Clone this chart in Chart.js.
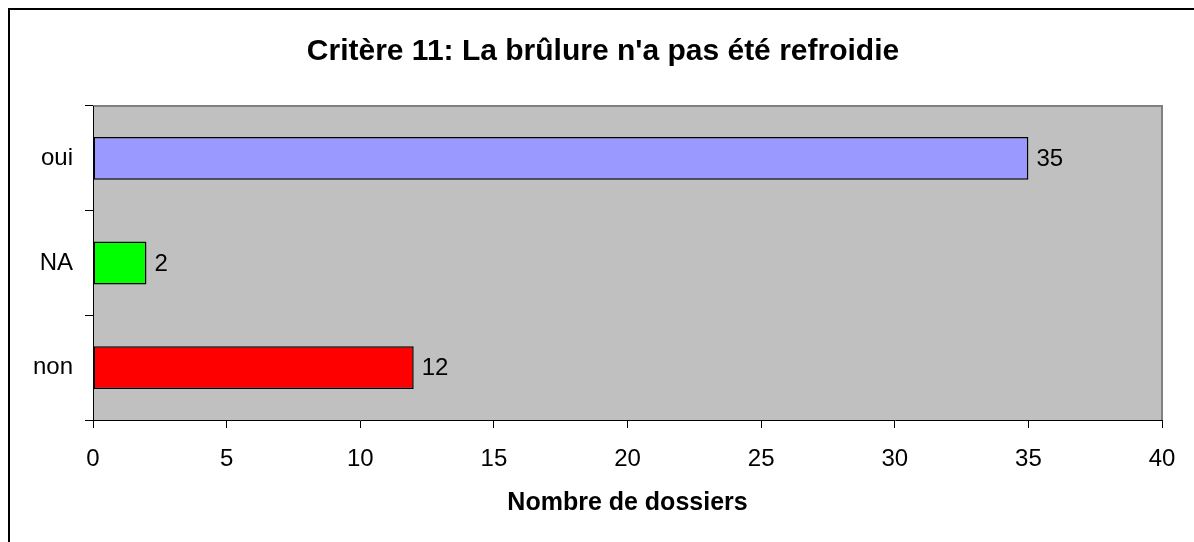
<!DOCTYPE html>
<html><head><meta charset="utf-8">
<script src="https://cdn.jsdelivr.net/npm/chart.js@4/dist/chart.umd.min.js"></script>
<style>html,body{margin:0;padding:0;background:#fff;}#wrap{width:1194px;height:542px;position:relative;}</style>
</head><body><div id="wrap"><canvas id="c" width="1194" height="542"></canvas></div>
<script>
const categories = ['oui', 'NA', 'non'];
const values = [35, 2, 12];
const barColors = ['#9999FF', '#00FF00', '#FF0000'];
const xTickValues = [0, 5, 10, 15, 20, 25, 30, 35, 40];
const chartTitle = "Critère 11: La brûlure n'a pas été refroidie";
const xAxisTitle = 'Nombre de dossiers';

const FONT = "'Liberation Sans', Arial, sans-serif";

const framePlugin = {
  id: 'frame',
  beforeDraw(chart) {
    const ctx = chart.ctx, a = chart.chartArea;
    ctx.save();
    ctx.fillStyle = '#ffffff';
    ctx.fillRect(0, 0, chart.width, chart.height);
    ctx.strokeStyle = '#000000';
    ctx.lineWidth = 2;
    ctx.strokeRect(9, 9, chart.width + 50, chart.height + 50);
    ctx.fillStyle = '#C0C0C0';
    ctx.fillRect(a.left, a.top, a.right - a.left, a.bottom - a.top);
    ctx.strokeStyle = '#808080';
    ctx.lineWidth = 2;
    ctx.beginPath();
    ctx.moveTo(a.left, a.top);
    ctx.lineTo(a.right, a.top);
    ctx.lineTo(a.right, a.bottom);
    ctx.stroke();
    // chart title
    ctx.fillStyle = '#000';
    ctx.font = 'bold 30px ' + FONT;
    ctx.textAlign = 'center';
    ctx.textBaseline = 'middle';
    ctx.fillText(chartTitle, 603, 52);
    ctx.restore();
  }
};

const labelPlugin = {
  id: 'barLabels',
  afterDatasetsDraw(chart) {
    const ctx = chart.ctx;
    const meta = chart.getDatasetMeta(0);
    ctx.save();
    ctx.font = '24px ' + FONT;
    ctx.fillStyle = '#000';
    ctx.textAlign = 'left';
    ctx.textBaseline = 'middle';
    meta.data.forEach((bar, i) => {
      ctx.fillText(String(values[i]), bar.x + 8, bar.y + 1);
    });
    ctx.restore();
  }
};

new Chart(document.getElementById('c'), {
  type: 'bar',
  data: {
    labels: categories,
    datasets: [{
      data: values,
      backgroundColor: barColors,
      borderColor: '#000000',
      borderWidth: 1.5,
      borderSkipped: false,
      barPercentage: 0.41,
      categoryPercentage: 1
    }]
  },
  options: {
    indexAxis: 'y',
    responsive: false,
    animation: false,
    devicePixelRatio: 1,
    layout: { padding: { left: 0, right: 32, top: 106, bottom: 0 } },
    plugins: {
      legend: { display: false },
      tooltip: { enabled: false },
      title: { display: false }
    },
    scales: {
      x: {
        type: 'linear',
        min: 0,
        max: 40,
        afterBuildTicks(s) { s.ticks = xTickValues.map(v => ({ value: v })); },
        afterFit(s) { s.height = 122; },
        ticks: { color: '#000', font: { family: FONT, size: 24 }, padding: 17 },
        grid: { drawOnChartArea: false, drawTicks: true, tickLength: 8, color: '#000' },
        border: { display: true, color: '#000', width: 1 },
        title: {
          display: true,
          text: xAxisTitle,
          color: '#000',
          font: { family: FONT, size: 25, weight: 'bold' },
          padding: { top: 0, bottom: 24 }
        }
      },
      y: {
        type: 'category',
        afterFit(s) { s.width = 93; },
        ticks: { color: '#000', font: { family: FONT, size: 24 }, padding: 12 },
        grid: { offset: true, drawOnChartArea: false, drawTicks: true, tickLength: 8, color: '#000' },
        border: { display: true, color: '#000', width: 1 }
      }
    }
  },
  plugins: [framePlugin, labelPlugin]
});
</script>
</body></html>
